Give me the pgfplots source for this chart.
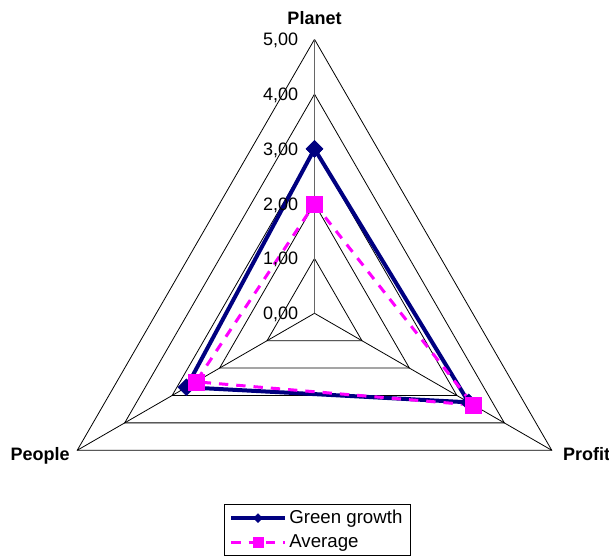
\documentclass[border=0pt]{standalone}
\usepackage{fontspec}
\setmainfont{Liberation Sans}
\usepackage{pgfplots}
\pgfplotsset{compat=1.18}
\usepgfplotslibrary{polar}
\definecolor{navyline}{RGB}{0,0,128}
\definecolor{magentaline}{RGB}{255,0,255}

\begin{document}
\begin{tikzpicture}
\begin{polaraxis}[
    width=411pt, height=411pt, scale only axis,
    xmin=0, xmax=360, ymin=0, ymax=5,
    hide axis, clip=false,
    font=\fontsize{13.5}{16}\selectfont,
    legend style={
        at={(axis description cs:0.505,0.152)}, anchor=north,
        draw=black, line width=0.6pt,
        font=\fontsize{14}{16}\selectfont,
        cells={anchor=west}, inner xsep=4pt, inner ysep=2.5pt, row sep=2.5pt
    },
    legend image code/.code={
        \draw[mark repeat=2, mark phase=2, #1] plot coordinates {(0pt,0pt) (20pt,0pt) (40pt,0pt)};
    },
]
% triangular grid
\addplot[black, line width=0.6pt, forget plot] coordinates {(90,1) (330,1) (210,1) (90,1)};
\addplot[black, line width=0.6pt, forget plot] coordinates {(90,2) (330,2) (210,2) (90,2)};
\addplot[black, line width=0.6pt, forget plot] coordinates {(90,3) (330,3) (210,3) (90,3)};
\addplot[black, line width=0.6pt, forget plot] coordinates {(90,4) (330,4) (210,4) (90,4)};
\addplot[black, line width=0.6pt, forget plot] coordinates {(90,5) (330,5) (210,5) (90,5)};
% spokes
\addplot[black!60, line width=0.75pt, forget plot] coordinates {(90,0) (90,5)};
\addplot[black, line width=0.6pt, forget plot] coordinates {(330,0) (330,5)};
\addplot[black, line width=0.6pt, forget plot] coordinates {(210,0) (210,5)};

% series (angle, value): Planet=90, Profit=330, People=210
\addplot[navyline, line width=3pt, mark=square*, mark size=4.5pt,
    mark options={rotate=45, solid, line width=0.3pt},
    legend image post style={mark size=2.4pt}]
    coordinates {(90,3) (330,3.25) (210,2.7) (90,3)};
\addlegendentry{Green growth}
\addplot[magentaline, line width=2.25pt, dash pattern=on 7pt off 6pt,
    mark=square*, mark size=6pt,
    mark options={solid, line width=0.3pt},
    legend image post style={mark size=3.7pt}]
    coordinates {(90,2) (330,3.35) (210,2.5) (90,2)};
\addlegendentry{Average}

% radial value labels
\node[anchor=east, inner sep=0pt, xshift=-12pt, yshift=-1pt] at (axis cs:90,0) {0,00};
\node[anchor=east, inner sep=0pt, xshift=-12pt, yshift=-1pt] at (axis cs:90,1) {1,00};
\node[anchor=east, inner sep=0pt, xshift=-12pt, yshift=-1pt] at (axis cs:90,2) {2,00};
\node[anchor=east, inner sep=0pt, xshift=-12pt, yshift=-1pt] at (axis cs:90,3) {3,00};
\node[anchor=east, inner sep=0pt, xshift=-12pt, yshift=-1pt] at (axis cs:90,4) {4,00};
\node[anchor=east, inner sep=0pt, xshift=-12pt, yshift=-1pt] at (axis cs:90,5) {5,00};

% category labels
\node[anchor=base, inner sep=0pt, yshift=11pt, font=\fontsize{13.5}{16}\selectfont\bfseries] at (axis cs:90,5) {Planet};
\node[anchor=base west, inner sep=0pt, xshift=8.25pt, yshift=-8pt, font=\fontsize{13.5}{16}\selectfont\bfseries] at (axis cs:330,5) {Profit};
\node[anchor=base east, inner sep=0pt, xshift=-5.5pt, yshift=-8pt, font=\fontsize{13.5}{16}\selectfont\bfseries] at (axis cs:210,5) {People};

\coordinate (O) at (axis cs:0,0);
\end{polaraxis}
\pgfresetboundingbox
\path[use as bounding box] ([xshift=-235.9pt,yshift=-182.8pt]O) rectangle ([xshift=220.9pt,yshift=235pt]O);
\end{tikzpicture}
\end{document}
